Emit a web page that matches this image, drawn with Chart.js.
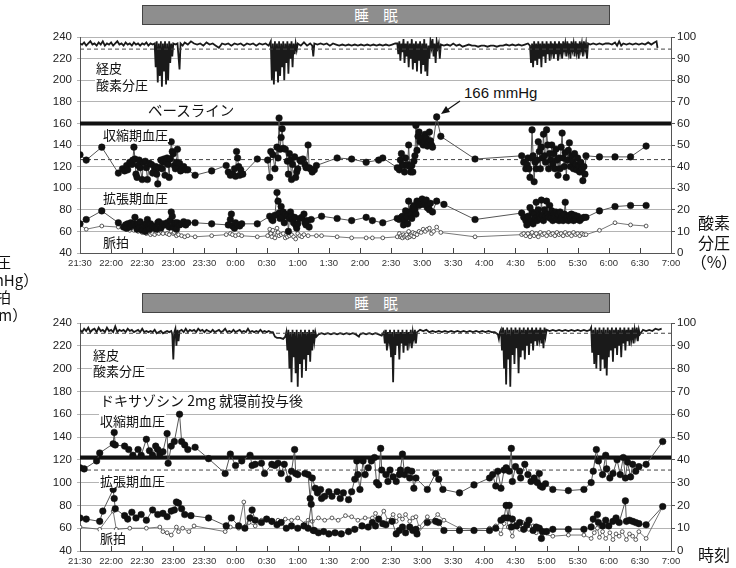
<!DOCTYPE html>
<html>
<head>
<meta charset="utf-8">
<script src="https://cdn.jsdelivr.net/npm/chart.js@4.4.1/dist/chart.umd.min.js"></script>
<style>
    body { margin: 0; background: #fff; }
    #wrap { position: relative; width: 736px; height: 568px; overflow: hidden; background: #fff; font-family: "Noto Sans CJK JP", "Noto Sans", sans-serif; color: #111; }
    canvas { position: absolute; left: 0; }
    .banner { position: absolute; left: 142px; width: 466px; height: 18px; background: #8e8e8e; border: 1px solid #444; color: #fff; font-size: 14.5px; line-height: 18px; text-align: center; }
    .lbl { position: absolute; background: #fff; font-size: 13px; line-height: 15px; padding: 0 1px; white-space: nowrap; }
    .side { position: absolute; text-align: center; font-size: 15px; line-height: 17.5px; white-space: nowrap; }
</style>
</head>
<body>
<div id="wrap">
    <div class="banner" style="top:5px">睡　眠</div>
    <div class="banner" style="top:293px">睡　眠</div>
    <canvas id="topChart" width="736" height="290" style="top:0"></canvas>
    <canvas id="bottomChart" width="736" height="278" style="top:290px"></canvas>

    <div class="lbl" style="left:95px;top:60px">経皮</div>
    <div class="lbl" style="left:95px;top:77px">酸素分圧</div>
    <div class="lbl" style="left:147px;top:102px;font-size:14.5px">ベースライン</div>
    <div class="lbl" style="left:102px;top:127px">収縮期血圧</div>
    <div class="lbl" style="left:102px;top:190px">拡張期血圧</div>
    <div class="lbl" style="left:102px;top:234px">脈拍</div>
    <div class="lbl" style="left:463px;top:84px;font-family:'Liberation Sans',sans-serif;font-size:15px;line-height:17px">166 mmHg</div>

    <div class="lbl" style="left:92px;top:347px">経皮</div>
    <div class="lbl" style="left:92px;top:363px">酸素分圧</div>
    <div class="lbl" style="left:99px;top:393px;font-size:14px">ドキサゾシン 2mg 就寝前投与後</div>
    <div class="lbl" style="left:99px;top:413px">収縮期血圧</div>
    <div class="lbl" style="left:99px;top:473px">拡張期血圧</div>
    <div class="lbl" style="left:99px;top:530px">脈拍</div>

    <div class="side" style="left:-39px;top:253px;width:70px">血圧<br>（mmHg）<br>脈拍<br>（bpm）</div>
    <div class="side" style="left:684px;top:213px;width:60px;font-size:16px;line-height:19.5px">酸素<br>分圧<br>（%）</div>
    <div class="side" style="left:684px;top:546px;width:60px;font-size:16px">時刻</div>

    <svg style="position:absolute;left:0;top:0" width="736" height="568">
        <line x1="460" y1="101" x2="447" y2="110" stroke="#111" stroke-width="1.2"/>
        <polygon points="441,114 446,106 450,112" fill="#111"/>
    </svg>
</div>

<script>
// time axis: minutes after 21:30, ticks every 30 min up to 7:00
const xMax = 570;
const tickStep = 30;

// reference lines
const topBaseline = 160;
const topBpDash = 126.5;
const topSpo2Dash = 94.4;
const bottomBaseline = 122;
const bottomBpDash = 111;
const bottomSpo2Dash = 95.5;

// ---- baseline night (top) : [minute, value]
const topSpo2 = [[0,97],[2,96.5],[4,97.5],[6,96],[8,97],[10,98],[12,96.5],[14,97],[16,96],[18,97.5],[20,96.5],[22,98],[24,96],[26,97],[28,96.5],[30,97.5],[32,96],[34,97],[36,98],[38,96.5],[40,97],[42,96],[44,97.5],[46,96.5],[48,97],[50,96],[52,97.5],[54,96.5],[56,97],[58,96],[60,97],[62,96.5],[64,97.5],[66,96],[68,97],[70,96.5],[72,97],[73,86],[74,98],[75,79],[76,97],[77,82],[78,98],[79,77],[80,97],[81,84],[82,98],[83,78],[84,97],[85,80],[86,98],[87,88],[88,97],[89,91],[90,97],[92,96.5],[94,97],[96,85],[97,97],[99,96],[101,97.5],[104,96.5],[107,98],[110,97],[113,96.5],[116,97],[119,96],[122,97.5],[125,96.5],[128,97],[131,96],[134,95],[137,97],[140,96.5],[143,97],[146,96],[149,97],[152,96.5],[155,97],[158,96],[161,97],[164,96.5],[167,97],[170,96],[173,97],[176,96.5],[179,97],[182,96],[184,98],[185,80],[186,97],[187,78],[188,98],[189,84],[190,97],[191,79],[192,98],[193,82],[194,97],[195,86],[196,98],[197,80],[198,97],[199,88],[200,98],[201,83],[202,97],[203,90],[204,98],[205,86],[206,97],[207,92],[208,97],[209,94],[210,97],[213,96],[216,97.5],[219,96],[222,97],[224,96],[225,91],[226,97],[229,96.5],[232,97],[235,96.5],[238,97],[241,96],[244,97],[247,96.5],[250,96],[253,96.5],[256,96],[259,96.5],[262,96],[265,96.5],[268,96],[271,96.5],[274,96],[277,96.5],[280,96],[283,96.5],[286,96],[289,96.5],[292,96],[295,96.5],[298,96],[301,96.5],[304,97],[306,97],[307,92],[308,98],[309,89],[310,97],[311,93],[312,99],[313,88],[314,97],[315,91],[316,98],[317,86],[318,97],[319,90],[320,99],[321,85],[322,97],[323,88],[324,98],[325,84],[326,97],[327,89],[328,98],[329,83],[330,97],[331,87],[332,99],[333,84],[334,97],[335,82],[336,96],[337,90],[338,98],[339,95],[340,99],[341,91],[342,97],[343,88],[344,98],[345,95],[346,97],[347,90],[348,96.5],[351,96],[354,96.5],[357,96],[360,97],[363,96],[366,96.5],[369,95.5],[372,96],[375,96.5],[378,96],[381,96],[384,95.5],[387,96],[390,96],[393,95.5],[396,96],[399,96],[402,95.5],[405,96],[408,96],[411,96.5],[414,96],[417,96.5],[420,96],[423,96.5],[426,96],[429,96.5],[432,97],[434,96],[435,88],[436,97],[437,86],[438,98],[439,89],[440,97],[441,87],[442,98],[443,90],[444,97],[445,86],[446,98],[447,91],[448,97],[449,88],[450,98],[451,92],[452,97],[453,89],[454,98],[455,93],[456,97],[457,90],[458,98],[459,92],[460,97],[461,89],[462,98],[463,93],[464,97],[465,90],[466,98],[467,94],[468,97],[469,91],[470,98],[471,93],[472,97],[473,90],[474,98],[475,94],[476,97],[477,91],[478,98],[479,93],[480,97],[481,90],[482,98],[483,94],[484,97],[485,91],[486,98],[487,94],[488,97],[489,90],[490,97],[492,96.5],[495,97],[498,96.5],[501,97],[504,96.5],[507,97],[510,97],[513,96.5],[516,97.5],[518,96],[520,98],[522,96],[524,97],[527,96.5],[530,97],[533,96.5],[536,97],[539,96.5],[542,97],[545,96.5],[548,97.5],[551,96.5],[554,97.5],[556,98],[557,95]];

const topSys = [[0,131],[6,126],[21,138],[37,114],[41,118],[43,116],[45,121],[46,117],[48,124],[50,122],[51,126],[52,138],[53,127],[54,113],[55,110],[56,121],[57,126],[58,119],[60,108],[61,124],[63,125],[64,119],[65,108],[67,123],[69,122],[70,114],[72,118],[73,120],[74,113],[75,104],[76,119],[78,126],[79,118],[80,124],[81,127],[82,112],[83,124],[84,128],[85,122],[86,110],[87,127],[88,143],[89,134],[90,132],[91,121],[92,118],[93,124],[94,136],[95,119],[96,123],[97,116],[98,117],[100,120],[102,117],[104,117],[111,112],[127,116],[141,121],[143,115],[145,112],[147,113],[149,118],[150,111],[151,134],[152,128],[153,120],[154,112],[155,117],[157,113],[171,127],[181,126],[183,110],[184,134],[186,131],[188,118],[190,138],[191,128],[192,165],[193,136],[194,147],[195,155],[196,137],[198,136],[200,125],[201,113],[202,132],[203,126],[204,108],[205,122],[207,129],[208,110],[209,115],[210,118],[212,126],[213,125],[215,127],[217,122],[218,119],[220,140],[221,119],[222,118],[224,115],[226,117],[228,121],[248,128],[262,127],[276,124],[288,126],[292,128],[306,119],[308,117],[309,126],[310,132],[311,122],[312,121],[313,115],[314,128],[315,121],[316,122],[317,140],[318,120],[319,115],[320,121],[321,115],[322,125],[323,130],[324,158],[325,135],[326,148],[327,152],[328,143],[329,144],[330,147],[331,140],[332,143],[333,150],[334,146],[335,139],[336,143],[337,152],[338,144],[339,140],[340,138],[344,166],[348,148],[381,127],[426,130],[428,124],[430,118],[431,122],[432,128],[433,118],[434,110],[435,128],[436,154],[437,130],[438,106],[439,124],[440,118],[441,126],[442,143],[443,134],[444,118],[445,138],[446,128],[447,150],[448,130],[449,124],[450,154],[451,140],[452,118],[453,132],[454,126],[455,140],[456,122],[457,132],[458,118],[459,136],[460,126],[461,112],[462,128],[463,118],[464,138],[465,151],[466,128],[467,120],[468,133],[469,110],[470,126],[471,135],[472,142],[473,120],[474,130],[475,125],[476,118],[477,132],[478,122],[479,117],[480,128],[481,121],[482,115],[483,124],[484,118],[485,107],[486,120],[487,113],[488,130],[501,129],[516,129],[531,129],[546,139]];

const topDia = [[0,67],[6,71],[21,79],[37,68],[42,64],[44,66],[45,63],[46,67],[48,64],[49,68],[50,66],[52,67],[53,73],[54,65],[55,62],[56,67],[57,63],[58,69],[60,61],[62,66],[63,60],[64,67],[65,71],[66,64],[67,62],[68,67],[70,65],[72,63],[74,62],[75,68],[76,69],[78,63],[80,67],[82,66],[84,68],[86,64],[87,70],[88,78],[89,74],[90,64],[91,67],[92,68],[93,62],[94,68],[96,66],[98,67],[100,69],[102,66],[104,68],[111,68],[127,67],[143,66],[145,71],[146,76],[147,65],[149,63],[150,68],[152,66],[154,65],[156,67],[171,67],[183,74],[185,71],[186,70],[188,75],[190,96],[191,88],[192,77],[193,72],[194,83],[195,73],[196,78],[197,68],[198,76],[200,74],[201,60],[202,72],[203,78],[204,74],[205,71],[206,68],[207,73],[208,66],[209,63],[210,67],[212,72],[214,73],[216,76],[217,68],[218,66],[219,70],[221,64],[223,71],[233,74],[248,72],[262,70],[276,73],[282,70],[292,68],[306,72],[308,71],[310,73],[311,74],[312,66],[313,71],[314,79],[315,73],[316,67],[317,88],[318,78],[319,76],[320,72],[321,82],[322,84],[323,80],[324,76],[325,88],[326,86],[327,84],[328,88],[329,86],[330,90],[331,85],[332,87],[333,86],[334,89],[335,82],[336,84],[337,80],[338,86],[340,78],[344,88],[351,85],[381,71],[426,77],[428,73],[430,70],[431,66],[432,74],[433,68],[434,82],[435,70],[436,78],[437,67],[438,76],[439,72],[440,87],[441,70],[442,80],[443,75],[444,72],[445,89],[446,75],[447,70],[448,80],[449,74],[450,88],[451,76],[452,73],[453,84],[454,72],[455,79],[456,70],[457,76],[458,73],[459,78],[460,71],[461,76],[462,70],[463,78],[464,72],[465,74],[466,70],[467,76],[468,87],[469,72],[470,74],[471,70],[472,75],[473,72],[474,76],[475,73],[476,70],[477,75],[478,71],[480,74],[482,70],[484,72],[486,73],[488,73],[501,79],[516,83],[531,84],[546,84]];

const topPulse = [[0,66],[6,62],[21,65],[37,64],[44,62],[48,61],[52,61],[56,60],[60,59],[62,60],[64,58],[66,59],[68,57],[70,58],[72,57],[74,59],[76,58],[78,60],[80,58],[84,58],[86,57],[88,60],[89,63],[90,58],[91,59],[93,56],[95,57],[98,56],[101,55],[104,56],[111,55],[127,56],[141,57],[145,58],[147,57],[150,56],[153,57],[156,56],[171,55],[181,56],[183,62],[184,58],[185,55],[186,61],[188,54],[190,63],[191,59],[192,56],[194,57],[196,58],[198,54],[200,55],[202,56],[204,57],[206,55],[208,53],[210,58],[212,56],[214,55],[216,57],[220,56],[228,56],[233,56],[248,55],[262,54],[276,54],[282,54],[292,54],[306,55],[308,58],[309,55],[310,56],[311,54],[312,57],[313,55],[314,56],[315,57],[316,54],[317,60],[318,55],[319,57],[320,56],[321,59],[322,55],[323,58],[325,57],[327,60],[329,59],[331,62],[333,60],[335,62],[337,63],[339,58],[341,60],[344,64],[348,59],[381,55],[426,57],[428,58],[430,56],[432,58],[434,55],[436,59],[438,56],[440,58],[442,55],[444,59],[446,57],[448,58],[450,56],[452,59],[454,57],[456,58],[458,56],[460,59],[462,57],[464,58],[466,56],[468,59],[470,57],[472,58],[474,56],[476,59],[478,57],[480,58],[482,56],[484,58],[486,57],[488,57],[501,61],[516,68],[531,66],[546,65]];

// ---- after doxazosin (bottom)
const bottomSpo2 = [[0,97],[2,96],[4,97.5],[6,96.5],[8,98],[10,96],[12,97],[14,97.5],[16,96],[18,98],[20,96.5],[22,97],[24,96],[26,98],[28,96.5],[30,97],[32,96],[34,98.5],[36,96],[38,97],[40,96.5],[42,97],[44,96],[46,97.5],[48,96.5],[50,97],[52,96],[54,96.5],[56,97],[58,96],[60,97.5],[62,96],[64,96.5],[66,96],[68,96.5],[70,96],[72,97],[74,95.5],[76,96],[78,96.5],[80,95.5],[82,96],[84,96.5],[86,96],[88,96.5],[89,95],[90,84],[91,96],[92,97.5],[93,90],[94,97],[95,92],[96,96.5],[98,97],[100,96],[102,97.5],[104,96],[106,97],[108,96.5],[110,97],[112,96],[114,97.5],[116,96.5],[118,97],[120,96],[122,97],[124,96.5],[126,96],[128,97],[130,96],[132,96.5],[134,97],[136,96],[138,96.5],[140,97.5],[142,96],[144,96.5],[146,96],[148,97],[150,96],[152,96.5],[154,97],[156,96],[158,96.5],[160,96],[162,97.5],[164,96],[166,96.5],[168,96],[170,96.5],[172,96],[174,97],[176,96],[178,96.5],[180,96],[182,96.5],[184,96],[186,96],[188,94],[190,93.5],[193,93.5],[196,93],[198,94],[199,96],[200,88],[201,97],[202,80],[203,96],[204,74],[205,97],[206,85],[207,96],[208,78],[209,97],[210,72],[211,96],[212,82],[213,97],[214,76],[215,96],[216,84],[217,97],[218,79],[219,96],[220,86],[221,97],[222,83],[223,96],[224,88],[225,97],[226,92],[227,96],[228,94],[230,95],[233,95.5],[236,95],[239,95.5],[242,95],[245,95.5],[248,95],[251,95.5],[254,95],[257,95.5],[260,95],[263,95.5],[266,95],[269,94],[270,95],[273,95.5],[276,95],[279,95.5],[282,95],[285,95.5],[288,95],[291,94.5],[293,96],[294,91],[295,97],[296,88],[297,96],[298,92],[299,97],[300,85],[301,96],[302,74],[303,97],[304,86],[305,96],[306,90],[307,97],[308,84],[309,96],[310,91],[311,97],[312,87],[313,96],[314,90],[315,97],[316,88],[317,96],[318,92],[319,97],[320,89],[321,96],[322,93],[323,97],[324,91],[325,96],[328,97],[331,96.5],[334,97],[337,96],[340,96.5],[343,96],[346,96.5],[349,96],[352,96.5],[355,96],[358,96.5],[361,96],[364,96.5],[367,96],[370,96.5],[373,96],[376,96.5],[379,96],[382,96.5],[385,96],[388,96.5],[391,96],[394,96.5],[397,96],[400,96],[403,95],[404,93],[405,96],[406,97],[407,88],[408,98],[409,80],[410,97],[411,73],[412,98],[413,84],[414,97],[415,72],[416,98],[417,86],[418,97],[419,82],[420,98],[421,89],[422,97],[423,78],[424,98],[425,85],[426,97],[427,88],[428,98],[429,84],[430,97],[431,90],[432,98],[433,86],[434,97],[435,91],[436,98],[437,88],[438,97],[439,92],[440,98],[441,90],[442,97],[443,93],[444,98],[445,91],[446,97],[447,89],[448,98],[449,94],[450,97],[453,96.5],[456,97],[459,96.5],[462,97],[465,96.5],[468,97],[471,96.5],[474,97],[477,96.5],[480,97],[483,96.5],[486,97],[489,96.5],[492,97],[493,98],[494,87],[495,97],[496,82],[497,98],[498,80],[499,97],[500,86],[501,98],[502,79],[503,97],[504,84],[505,98],[506,80],[507,97],[508,77],[509,98],[510,85],[511,97],[512,88],[513,98],[514,83],[515,97],[516,89],[517,98],[518,86],[519,97],[520,90],[521,98],[522,85],[523,97],[524,91],[525,98],[526,88],[527,97],[528,92],[529,98],[530,90],[531,97],[532,93],[533,98],[534,91],[535,97],[536,94],[537,98],[538,92],[539,97],[540,95],[543,97],[546,96.5],[549,97],[552,96.5],[555,97.5],[558,97],[561,97.5]];

const bottomSys = [[0,113],[4,112],[16,119],[19,126],[32,134],[33,144],[34,133],[43,132],[47,129],[51,124],[56,129],[59,124],[64,138],[67,128],[70,124],[73,132],[75,129],[77,125],[80,127],[84,143],[85,117],[88,132],[91,136],[96,160],[98,136],[101,133],[104,129],[111,131],[124,121],[140,108],[145,125],[150,115],[156,119],[164,124],[166,115],[169,116],[175,117],[178,108],[185,116],[188,115],[191,117],[194,108],[197,116],[201,103],[204,110],[207,129],[208,108],[210,107],[217,108],[220,107],[222,86],[224,104],[227,95],[229,91],[232,94],[233,86],[236,88],[240,92],[243,88],[248,92],[251,86],[254,91],[259,85],[262,92],[265,103],[267,119],[268,107],[270,94],[273,119],[275,107],[278,113],[281,119],[284,122],[286,100],[288,98],[290,130],[291,111],[295,107],[297,101],[299,111],[302,105],[305,101],[308,107],[309,111],[311,125],[313,107],[316,111],[318,104],[320,110],[322,95],[324,104],[335,94],[343,108],[346,103],[350,94],[366,91],[380,98],[395,104],[398,107],[401,97],[403,110],[406,95],[409,111],[411,113],[414,110],[416,130],[417,101],[420,114],[424,110],[425,104],[429,116],[432,107],[435,101],[438,104],[441,100],[443,108],[444,97],[446,96],[449,99],[456,94],[471,93],[486,94],[493,100],[495,110],[498,129],[500,119],[504,107],[507,124],[508,112],[511,104],[514,108],[518,120],[521,107],[524,122],[526,104],[528,118],[531,105],[533,116],[536,110],[539,114],[546,116],[562,136]];

const bottomDia = [[0,69],[6,68],[19,66],[22,75],[32,94],[33,86],[34,77],[43,71],[46,68],[50,74],[54,69],[59,72],[64,67],[70,76],[75,72],[80,73],[84,70],[88,75],[91,76],[93,83],[95,82],[98,77],[101,72],[107,71],[124,69],[141,62],[146,69],[153,62],[159,60],[164,69],[166,76],[169,67],[175,65],[180,68],[185,66],[190,63],[194,65],[199,60],[204,62],[210,60],[216,62],[220,60],[223,81],[225,58],[226,58],[230,56],[235,57],[240,55],[246,56],[252,55],[259,57],[265,59],[272,62],[278,61],[282,65],[285,62],[288,68],[292,64],[295,63],[301,66],[305,55],[308,58],[311,61],[314,56],[318,61],[321,58],[324,59],[325,55],[335,65],[343,66],[346,65],[351,58],[366,58],[380,58],[395,58],[401,60],[406,67],[409,69],[411,80],[413,69],[414,80],[416,61],[417,68],[421,62],[424,65],[428,59],[431,63],[433,67],[437,58],[440,61],[443,60],[445,51],[446,57],[450,57],[456,59],[471,59],[486,59],[493,61],[495,68],[499,72],[500,65],[504,62],[507,67],[510,62],[514,66],[517,69],[520,65],[526,84],[527,66],[530,67],[533,66],[536,65],[539,64],[546,63],[562,79]];

const bottomPulse = [[0,61],[19,59],[32,75],[35,59],[48,60],[64,60],[77,61],[80,57],[84,56],[88,54],[93,61],[95,57],[99,60],[105,57],[110,62],[140,57],[145,61],[153,60],[158,83],[160,62],[163,65],[169,62],[175,67],[185,65],[191,67],[198,68],[204,67],[210,69],[217,64],[220,67],[224,66],[230,69],[236,67],[243,69],[249,67],[256,71],[262,70],[268,67],[275,69],[282,69],[285,73],[288,67],[293,75],[297,67],[302,72],[305,66],[308,71],[311,68],[314,72],[318,66],[321,69],[324,70],[327,61],[335,70],[338,66],[345,72],[351,67],[366,60],[380,59],[395,60],[401,62],[406,55],[409,64],[411,70],[413,61],[417,53],[420,63],[424,59],[427,65],[430,62],[433,59],[437,62],[440,56],[443,61],[446,55],[456,53],[471,54],[486,54],[493,51],[496,56],[499,60],[501,52],[504,57],[507,51],[511,56],[514,50],[517,55],[520,53],[523,57],[527,50],[530,55],[533,53],[536,50],[539,57],[546,51],[562,79]];

const toXY = (pairs) => pairs.map(([x, y]) => ({ x: x, y: y }));
const flat = (v) => [{ x: 0, y: v }, { x: xMax, y: v }];

const timeLabel = (m) => {
    const t = (21 * 60 + 30 + m) % 1440;
    const h = Math.floor(t / 60);
    const mm = t % 60;
    return h + ":" + (mm < 10 ? "0" : "") + mm;
};

// small x ticks drawn inside the plot
const innerTicks = {
    id: "innerTicks",
    afterDraw(chart) {
        const { ctx, chartArea, scales } = chart;
        ctx.save();
        ctx.strokeStyle = "#444";
        ctx.lineWidth = 1;
        for (let m = tickStep; m < xMax; m += tickStep) {
            const px = Math.round(scales.x.getPixelForValue(m)) + 0.5;
            ctx.beginPath();
            ctx.moveTo(px, chartArea.bottom);
            ctx.lineTo(px, chartArea.bottom - 5);
            ctx.stroke();
        }
        ctx.restore();
    },
};

function makeChart(id, opts) {
    const ctx = document.getElementById(id).getContext("2d");
    const bpPoint = {
        borderColor: "#555",
        borderWidth: 1,
        pointRadius: 3.3,
        pointBackgroundColor: "#111",
        pointBorderColor: "#111",
        pointBorderWidth: 0.5,
        yAxisID: "y",
    };
    return new Chart(ctx, {
        type: "line",
        data: {
            datasets: [
                Object.assign({ label: "sys", data: toXY(opts.sys), order: 1 }, bpPoint),
                Object.assign({ label: "dia", data: toXY(opts.dia), order: 2 }, bpPoint),
                {
                    label: "pulse", data: toXY(opts.pulse), order: 3, yAxisID: "y",
                    borderColor: "#555", borderWidth: 0.8,
                    pointRadius: 1.9, pointBackgroundColor: "#fff",
                    pointBorderColor: "#333", pointBorderWidth: 0.8,
                },
                {
                    label: "base", data: flat(opts.baseline), order: 4, yAxisID: "y",
                    borderColor: "#111", borderWidth: 4, pointRadius: 0,
                },
                {
                    label: "bpDash", data: flat(opts.bpDash), order: 5, yAxisID: "y",
                    borderColor: "#444", borderWidth: 1, borderDash: [4, 3], pointRadius: 0,
                },
                {
                    label: "spo2Dash", data: flat(opts.spo2Dash), order: 6, yAxisID: "y2",
                    borderColor: "#444", borderWidth: 1, borderDash: [4, 3], pointRadius: 0,
                },
                {
                    label: "spo2", data: toXY(opts.spo2), order: 7, yAxisID: "y2",
                    borderColor: "#1a1a1a", borderWidth: 1.8, pointRadius: 0,
                },
            ],
        },
        options: {
            responsive: false,
            animation: false,
            devicePixelRatio: 1,
            layout: { padding: { top: opts.top, left: 0, right: 0, bottom: 0 } },
            plugins: { legend: { display: false }, tooltip: { enabled: false } },
            elements: { line: { tension: 0 } },
            scales: {
                x: {
                    type: "linear",
                    min: 0,
                    max: xMax,
                    afterFit: (s) => { s.height = opts.xHeight; },
                    grid: { display: false, drawTicks: false },
                    border: { display: true, color: "#555" },
                    ticks: {
                        stepSize: tickStep,
                        autoSkip: false,
                        maxRotation: 0,
                        padding: 5,
                        color: "#333",
                        font: { family: "Liberation Sans", size: 9.5 },
                        callback: (v) => timeLabel(v),
                    },
                },
                y: {
                    position: "left",
                    min: 40,
                    max: 240,
                    afterFit: (s) => { s.width = 80; },
                    grid: { color: "#b4b4b4", lineWidth: 1, tickLength: 3 },
                    border: { display: true, color: "#555" },
                    ticks: {
                        stepSize: 20,
                        padding: 5,
                        color: "#222",
                        font: { family: "Liberation Sans", size: 11.5 },
                    },
                },
                y2: {
                    position: "right",
                    min: 0,
                    max: 100,
                    afterFit: (s) => { s.width = 65; },
                    grid: { drawOnChartArea: false, color: "#555", tickLength: 4 },
                    border: { display: true, color: "#555" },
                    ticks: {
                        stepSize: 10,
                        padding: 2,
                        color: "#222",
                        font: { family: "Liberation Sans", size: 11.5 },
                    },
                },
            },
        },
        plugins: [innerTicks],
    });
}

makeChart("topChart", {
    top: 37, xHeight: 37,
    sys: topSys, dia: topDia, pulse: topPulse, spo2: topSpo2,
    baseline: topBaseline, bpDash: topBpDash, spo2Dash: topSpo2Dash,
});

makeChart("bottomChart", {
    top: 33, xHeight: 17,
    sys: bottomSys, dia: bottomDia, pulse: bottomPulse, spo2: bottomSpo2,
    baseline: bottomBaseline, bpDash: bottomBpDash, spo2Dash: bottomSpo2Dash,
});
</script>
</body>
</html>
